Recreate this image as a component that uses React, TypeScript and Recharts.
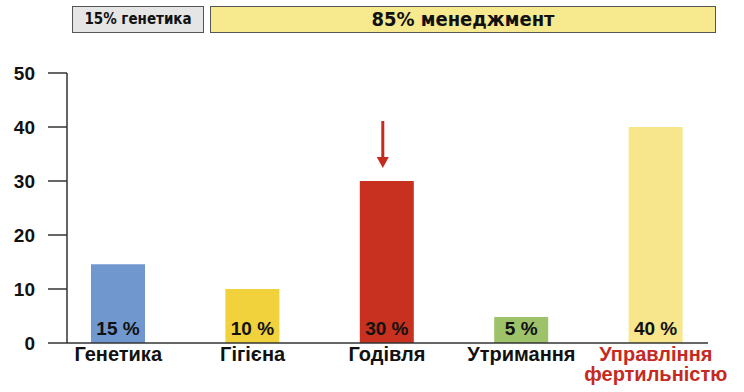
import { Bar, BarChart, Cell, LabelList, XAxis, YAxis } from "recharts";

const categories = ["Генетика", "Гігієна", "Годівля", "Утримання", "Управління фертильністю"];
const shares = [14.6, 10, 30, 4.8, 40];
const shareLabels = ["15 %", "10 %", "30 %", "5 %", "40 %"];
const barColors = ["#7098cf", "#f2d23c", "#c8301f", "#9dc26a", "#f7e68c"];
const yTicks = [0, 10, 20, 30, 40, 50];
const bannerGenetics = "15% генетика";
const bannerManagement = "85% менеджмент";

const data = categories.map((name, i) => ({
  name,
  value: shares[i],
  label: shareLabels[i],
  color: barColors[i],
}));

const FONT = "'Liberation Sans', Arial, sans-serif";
const NARROW = "'Liberation Sans Narrow', 'DejaVu Sans Condensed', sans-serif";
const AXIS_COLOR = "#333";
const RED = "#c62a1f";

function CategoryTick(props: any) {
  const { x, y, payload } = props;
  const words = String(payload.value).split(" ");
  const last = payload.index === categories.length - 1;
  return (
    <text
      x={x}
      y={y}
      textAnchor="middle"
      fill={last ? RED : "#111"}
      fontFamily={FONT}
      fontWeight="bold"
      fontSize={20}
    >
      {words.map((w, i) => (
        <tspan key={i} x={x} dy={i === 0 ? 10 : 20}>
          {w}
        </tspan>
      ))}
    </text>
  );
}

// share label at bar bottom, plus the arrow over the feeding bar
function ShareLabel(props: any) {
  const { x, y, width, height, index } = props;
  const cx = x + width / 2;
  return (
    <g>
      <text
        x={cx}
        y={y + height - 8}
        textAnchor="middle"
        fill="#111"
        fontFamily={FONT}
        fontWeight="bold"
        fontSize={19}
      >
        {shareLabels[index]}
      </text>
      {index === 2 && (
        <g>
          <line x1={cx - 4} y1={y - 60} x2={cx - 4} y2={y - 22} stroke={RED} strokeWidth={3} />
          <polygon points={`${cx - 10},${y - 24} ${cx + 2},${y - 24} ${cx - 4},${y - 13}`} fill={RED} />
        </g>
      )}
    </g>
  );
}

export default function App() {
  return (
    <div style={{ position: "absolute", left: 0, top: 0, width: 744, height: 392, background: "#fff" }}>
      <div
        style={{
          position: "absolute",
          left: 72,
          top: 6,
          width: 130,
          height: 25,
          background: "#e5e5e5",
          border: "1.5px solid #555",
          fontFamily: NARROW,
          fontWeight: "bold",
          fontSize: 15,
          lineHeight: "25px",
          textAlign: "center",
          color: "#111",
        }}
      >
        {bannerGenetics}
      </div>
      <div
        style={{
          position: "absolute",
          left: 210,
          top: 6,
          width: 504,
          height: 25,
          background: "#f7e98e",
          border: "1.5px solid #555",
          fontFamily: NARROW,
          fontWeight: "bold",
          fontSize: 20,
          lineHeight: "25px",
          textAlign: "center",
          color: "#111",
        }}
      >
        {bannerManagement}
      </div>
      <BarChart
        width={744}
        height={392}
        data={data}
        margin={{ top: 73, right: 36, bottom: 0, left: 0 }}
        style={{ position: "absolute", left: 0, top: 0 }}
      >
        <XAxis
          dataKey="name"
          interval={0}
          height={49}
          tickLine={false}
          axisLine={{ stroke: AXIS_COLOR, strokeWidth: 1.5 }}
          padding={{ left: -16, right: -15 }}
          tick={<CategoryTick />}
        />
        <YAxis
          domain={[0, 50]}
          ticks={yTicks}
          width={67}
          tickSize={19}
          tickMargin={13}
          axisLine={{ stroke: AXIS_COLOR, strokeWidth: 1.5 }}
          tickLine={{ stroke: AXIS_COLOR, strokeWidth: 1.5 }}
          tick={{ fill: "#111", fontFamily: FONT, fontWeight: "bold", fontSize: 19 }}
        />
        <Bar dataKey="value" barSize={54} isAnimationActive={false}>
          {data.map((d, i) => (
            <Cell key={i} fill={d.color} />
          ))}
          <LabelList dataKey="label" content={<ShareLabel />} />
        </Bar>
      </BarChart>
    </div>
  );
}
